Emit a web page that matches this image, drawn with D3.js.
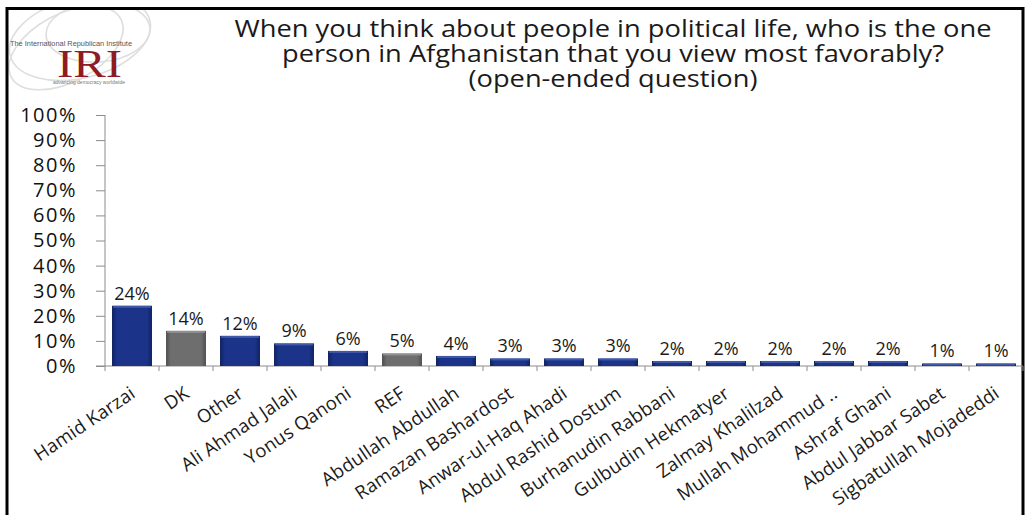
<!DOCTYPE html>
<html>
<head>
<meta charset="utf-8">
<script src="https://cdn.jsdelivr.net/npm/d3@7"></script>
<style>
  html, body { margin: 0; padding: 0; background: #fff; }
  svg { display: block; }
  text { font-family: "Open Sans", Lato, sans-serif; }
</style>
</head>
<body>
<svg id="chart" width="1025" height="515"></svg>
<script>
// ---------- data ----------
const categories = [
  "Hamid Karzai", "DK", "Other", "Ali Ahmad  Jalali", "Yonus Qanoni", "REF",
  "Abdullah Abdullah", "Ramazan Bashardost", "Anwar-ul-Haq Ahadi",
  "Abdul Rashid Dostum", "Burhanudin Rabbani", "Gulbudin Hekmatyer",
  "Zalmay Khalilzad", "Mullah Mohammud ..", "Ashraf Ghani",
  "Abdul Jabbar Sabet", "Sigbatullah Mojadeddi"
];
const values = [24, 14, 12, 9, 6, 5, 4, 3, 3, 3, 2, 2, 2, 2, 2, 1, 1];
const greyCategories = ["DK", "REF"];
const yTicks = [0, 10, 20, 30, 40, 50, 60, 70, 80, 90, 100];
const titleLines = [
  "When you think about people in political life, who is the one",
  "person in Afghanistan that you view most favorably?",
  "(open-ended question)"
];

// ---------- setup ----------
const svg = d3.select("#chart");
const W = 1025, H = 515;
const plot = { left: 105, right: 1023, top: 115, bottom: 366 };

const x = d3.scaleBand()
  .domain(categories)
  .range([plot.left, plot.right])
  .paddingInner(0.26)
  .paddingOuter(0.13);

const y = d3.scaleLinear()
  .domain([0, 100])
  .range([plot.bottom, plot.top]);

// gradients
const defs = svg.append("defs");
function makeGrad(id, edge, mid) {
  const g = defs.append("linearGradient").attr("id", id)
    .attr("x1", "0%").attr("x2", "100%").attr("y1", "0%").attr("y2", "0%");
  g.append("stop").attr("offset", "0%").attr("stop-color", edge);
  g.append("stop").attr("offset", "12%").attr("stop-color", mid);
  g.append("stop").attr("offset", "88%").attr("stop-color", mid);
  g.append("stop").attr("offset", "100%").attr("stop-color", edge);
}
makeGrad("gBlue", "#0e2262", "#1b3388");
makeGrad("gGrey", "#4f4f4f", "#6e6e6e");

// ---------- logo ----------
const logo = svg.append("g");
[[80, 38, 72, 40, -14], [66, 48, 62, 34, -28], [98, 32, 52, 30, -4]].forEach(([cx, cy, rx, ry, rot]) => {
  logo.append("ellipse")
    .attr("cx", cx).attr("cy", cy).attr("rx", rx).attr("ry", ry)
    .attr("transform", `rotate(${rot},${cx},${cy})`)
    .attr("fill", "none").attr("stroke", "#dedede").attr("stroke-width", 1.6);
});
logo.append("rect").attr("x", 0).attr("y", 0).attr("width", 200).attr("height", 10).attr("fill", "#fff");
logo.append("rect").attr("x", 0).attr("y", 0).attr("width", 7).attr("height", 120).attr("fill", "#fff");
logo.append("text").attr("x", 10).attr("y", 46)
  .attr("font-size", 6.5).attr("fill", "#555")
  .attr("textLength", 122).attr("lengthAdjust", "spacingAndGlyphs")
  .style("font-family", "'Liberation Sans', Arial, sans-serif")
  .text("The International Republican Institute");
logo.append("text").attr("x", 89.5).attr("y", 77).attr("text-anchor", "middle")
  .attr("font-size", 40).attr("fill", "#8e1b1f")
  .style("font-family", "'Liberation Serif', 'DejaVu Serif', serif")
  .attr("textLength", 65).attr("lengthAdjust", "spacingAndGlyphs")
  .text("IRI");
logo.append("text").attr("x", 89).attr("y", 84).attr("text-anchor", "middle")
  .attr("font-size", 4.5).attr("fill", "#777")
  .attr("textLength", 72).attr("lengthAdjust", "spacingAndGlyphs")
  .style("font-family", "'Liberation Sans', Arial, sans-serif")
  .text("advancing democracy worldwide");

// ---------- frame ----------
svg.append("path")
  .attr("d", `M7,${H} L7,8.5 L1023,8.5 L1023,${H}`)
  .attr("fill", "none").attr("stroke", "#000").attr("stroke-width", 3);

// ---------- title ----------
const titleWidths = [757, 662, 289];
svg.append("g").selectAll("text").data(titleLines).join("text")
  .attr("x", 613)
  .attr("y", (d, i) => 37 + i * 25)
  .attr("text-anchor", "middle")
  .attr("font-size", 23.5)
  .attr("fill", "#1a1a1a")
  .attr("textLength", (d, i) => titleWidths[i])
  .attr("lengthAdjust", "spacingAndGlyphs")
  .text(d => d);

// ---------- axes ----------
const axisColor = "#8c8c8c";
const yAxis = svg.append("g")
  .attr("transform", `translate(${plot.left},0)`)
  .call(d3.axisLeft(y).tickValues(yTicks).tickSize(9).tickPadding(19)
    .tickFormat(d => d + "%"));
yAxis.select(".domain").attr("stroke", axisColor).attr("d", `M0,${plot.top}V${plot.bottom + 5}`);
yAxis.selectAll(".tick line").attr("stroke", axisColor);
yAxis.selectAll(".tick text").attr("font-size", 20).attr("fill", "#111")
  .attr("letter-spacing", 1.5)
  .style("font-family", "'Open Sans', sans-serif");

// x axis line + boundary ticks
const xAxisG = svg.append("g");
xAxisG.append("line")
  .attr("x1", plot.left - 9).attr("x2", plot.right)
  .attr("y1", plot.bottom).attr("y2", plot.bottom)
  .attr("stroke", axisColor);
const boundaries = categories.map(c => x(c) - x.step() * x.paddingInner() / 2).concat([plot.right]);
xAxisG.selectAll("line.b").data(boundaries.slice(1)).join("line")
  .attr("class", "b")
  .attr("x1", d => d).attr("x2", d => d)
  .attr("y1", plot.bottom).attr("y2", plot.bottom + 5)
  .attr("stroke", axisColor);

// ---------- bars ----------
const bars = svg.append("g");
categories.forEach((c, i) => {
  const grey = greyCategories.includes(c);
  const bx = x(c), bw = x.bandwidth();
  const by = y(values[i]), bh = y(0) - y(values[i]);
  bars.append("rect")
    .attr("x", bx).attr("y", by).attr("width", bw).attr("height", bh)
    .attr("fill", grey ? "url(#gGrey)" : "url(#gBlue)");
  bars.append("rect")
    .attr("x", bx + 1).attr("y", by).attr("width", bw - 2).attr("height", Math.min(2, bh))
    .attr("fill", grey ? "#9a9a9a" : "#4a63b0").attr("opacity", 0.8);
});

// value labels
svg.append("g").selectAll("text").data(categories).join("text")
  .attr("x", d => x(d) + x.bandwidth() / 2)
  .attr("y", (d, i) => y(values[i]) - 6)
  .attr("text-anchor", "middle")
  .attr("font-size", 18)
  .attr("fill", "#1a1a1a")
  .text((d, i) => values[i] + "%");

// category labels
svg.append("g").selectAll("text").data(categories).join("text")
  .attr("transform", d => `translate(${x(d) + x.bandwidth() / 2 + 1},${plot.bottom + 25}) rotate(-34)`)
  .attr("text-anchor", "end")
  .attr("dy", "0.35em")
  .attr("font-size", 18.5)
  .attr("letter-spacing", 0.2)
  .attr("fill", "#1a1a1a")
  .text(d => d);
</script>
</body>
</html>
